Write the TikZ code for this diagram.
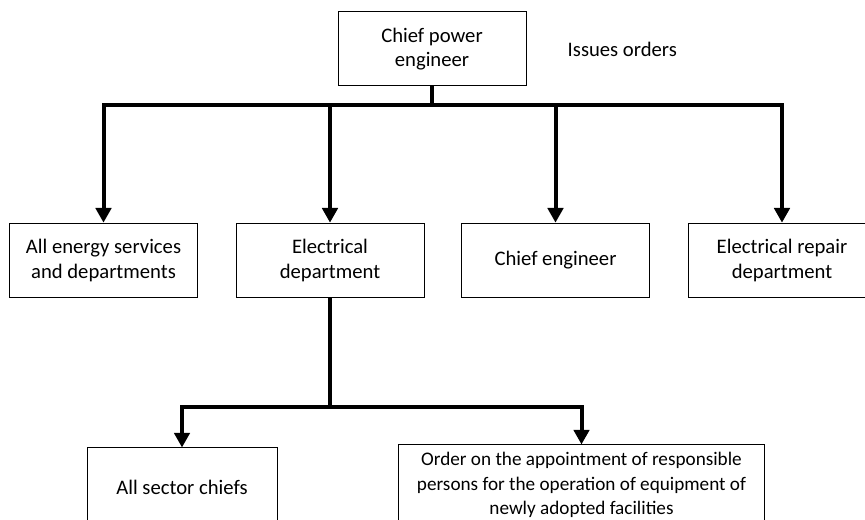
\documentclass[tikz,border=0pt]{standalone}
\usepackage{fontspec}
\setmainfont{Carlito}
\usetikzlibrary{arrows.meta}
\begin{document}
\begin{tikzpicture}[x=0.75pt,y=-0.75pt,
  every node/.style={font=\fontsize{15.5pt}{18.2pt}\selectfont},
  unit/.style={draw=black, line width=0.75pt, align=center, inner sep=0pt,
    minimum width=141pt, minimum height=56pt},
  link/.style={line width=3pt, line join=miter},
  feed/.style={link, -{Triangle[length=11pt,width=11.5pt]}}]
  \useasboundingbox (0,0) rectangle (865,520);
  \clip (0,0) rectangle (865,520);

  % head of the service
  \node[unit, minimum height=55.5pt] (head) at (432,49) {Chief power\\engineer};
  \node[anchor=base west] (note) at (563,57) {Issues orders};

  % first level
  \node[unit] (energy)  at (103.5,260.5) {All energy services\\and departments};
  \node[unit] (elec)    at (330,260.5)   {Electrical\\department};
  \node[unit] (chief)   at (555.5,260.5) {Chief engineer};
  \node[unit] (repair)  at (782,260.5)   {Electrical repair\\department};

  % second level
  \node[unit, minimum width=142.5pt, minimum height=58.5pt] (sectors) at (182,487) {All sector chiefs};
  \node[unit, minimum width=274pt, minimum height=60pt,
        font=\fontsize{14.4pt}{18.2pt}\selectfont] (order) at (581.5,485)
    {Order on the appointment of responsible\\persons for the operation of equipment of\\newly adopted facilities};

  % distribution lines
  \coordinate (bus) at (0,105);
  \coordinate (bus2) at (0,407);
  \draw[feed] (head.south) -- (head.south |- bus) -| (energy.north);
  \draw[feed] (head.south) -- (head.south |- bus) -| (elec.north);
  \draw[feed] (head.south) -- (head.south |- bus) -| (chief.north);
  \draw[feed] (head.south) -- (head.south |- bus) -| (repair.north);
  \draw[feed] (elec.south) -- (elec.south |- bus2) -| (sectors.north);
  \draw[feed] (elec.south) -- (elec.south |- bus2) -| (order.north);
\end{tikzpicture}
\end{document}
